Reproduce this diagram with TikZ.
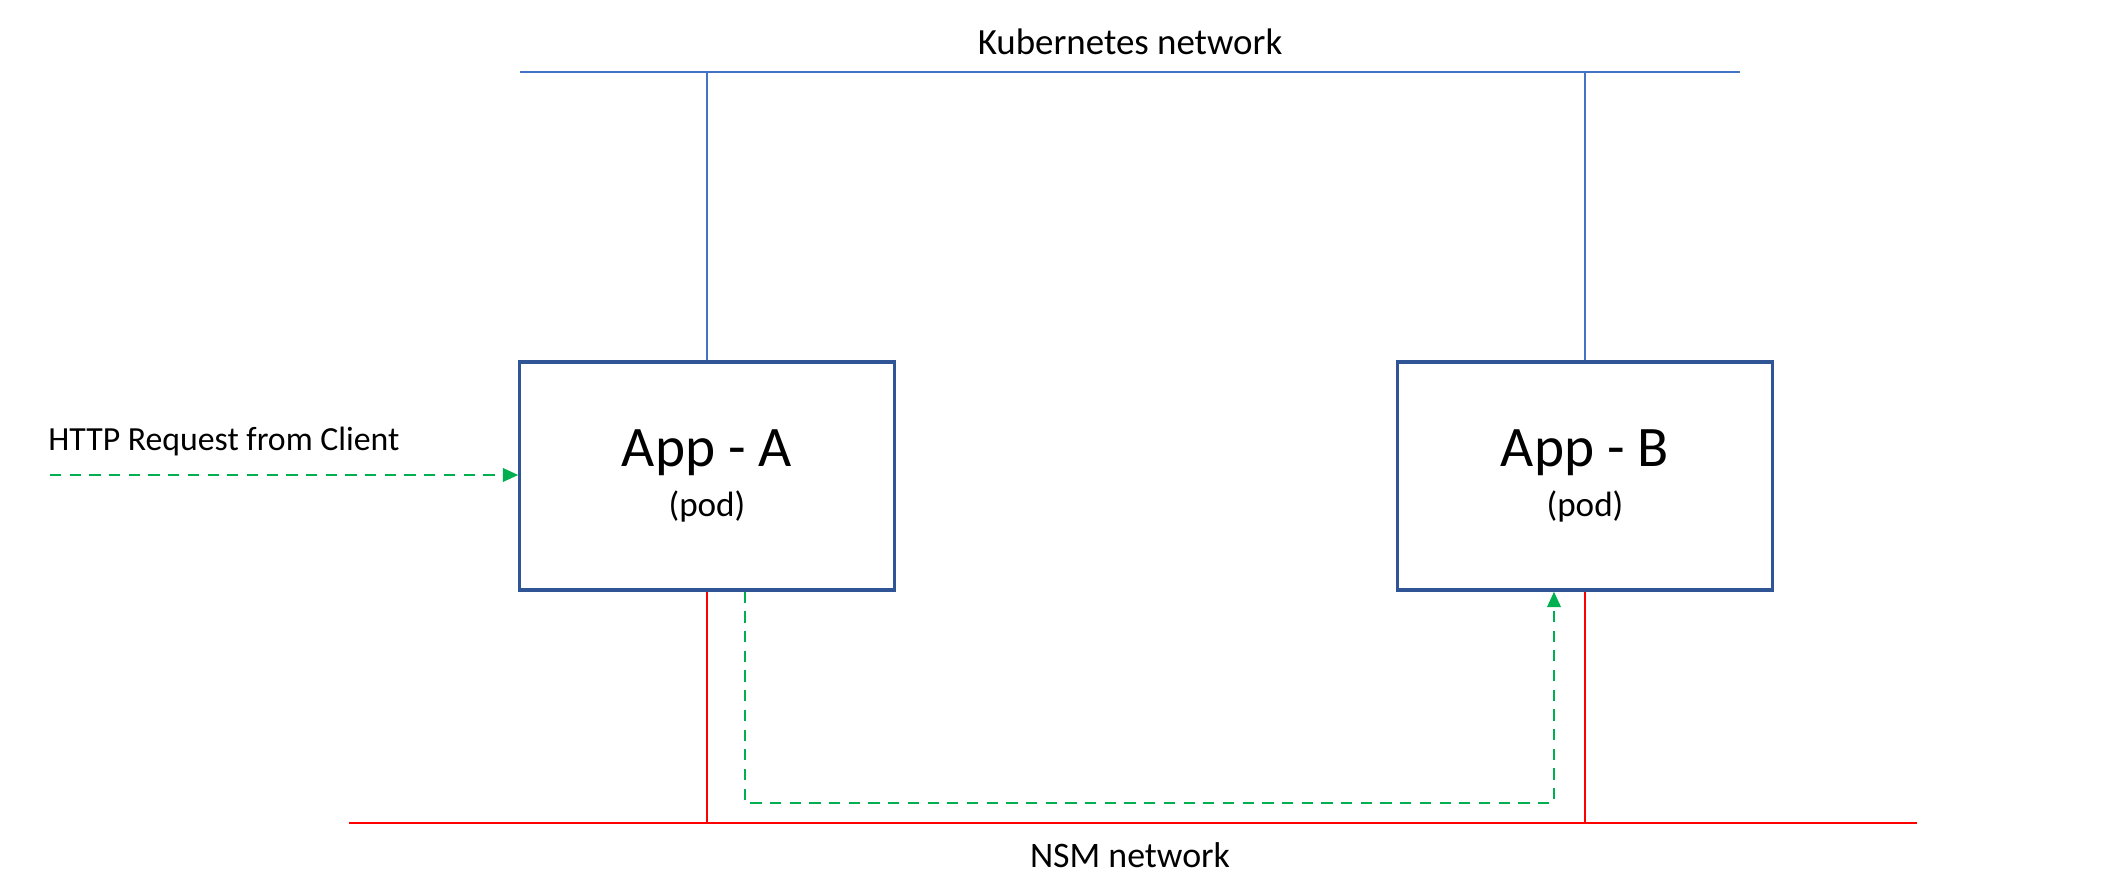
\documentclass[tikz,border=0pt]{standalone}
\usepackage{fontspec}
\setmainfont{Carlito}
\usepackage{xcolor}
\usetikzlibrary{calc}
\usetikzlibrary{arrows.meta}

\definecolor{boxblue}{HTML}{2F5597}
\definecolor{kubeblue}{HTML}{4472C4}
\definecolor{nsmred}{HTML}{FF0000}
\definecolor{flowgreen}{HTML}{00B050}

\begin{document}
\begin{tikzpicture}[
  x=0.01cm, y=-0.01cm, % one unit is one pixel of the reference
  >={Triangle[length=4.4pt,width=3.8pt]}, % style of the arrow tips
  pod node/.style={rectangle,draw=boxblue,line width=0.9pt,minimum width=3.74cm,minimum height=2.28cm,align=center,font=\fontsize{16.3}{17}\selectfont}, % style of the app boxes
  kube line/.style={draw=kubeblue,line width=0.5pt}, % kubernetes network
  nsm line/.style={draw=nsmred,line width=0.5pt}, % NSM network
  flow line/.style={->,draw=flowgreen,line width=0.75pt,dash pattern=on 3.2pt off 2.4pt}, % dashed traffic path
  net label/.style={font=\fontsize{10.5}{12}\selectfont}
  ]

  \useasboundingbox (0,0) rectangle (2102,894);

  \node[pod node] (appA) at (707,476) {App - A\\[-3pt]{\fontsize{10}{12}\selectfont (pod)}};
  \node[pod node] (appB) at (1585,476) {App - B\\[-3pt]{\fontsize{10}{12}\selectfont (pod)}};

  % networks
  \coordinate (kubeL) at (520,72);
  \coordinate (kubeR) at (1740,72);
  \coordinate (nsmL) at (349,823);
  \coordinate (nsmR) at (1917,823);
  \node[net label] (kubeLabel) at (1130,42) {Kubernetes network};
  \node[net label,font=\fontsize{10.2}{12}\selectfont] (nsmLabel) at (1130,855) {NSM network};

  \path[kube line] (kubeL) -- (kubeR);
  \path[kube line] (appA.north) -- (appA.north |- kubeL);
  \path[kube line] (appB.north) -- (appB.north |- kubeR);

  \path[nsm line] (nsmL) -- (nsmR);
  \path[nsm line] (appA.south) -- (appA.south |- nsmL);
  \path[nsm line] (appB.south) -- (appB.south |- nsmR);

  % request path
  \coordinate (client) at (50,475);
  \node[net label,anchor=west,font=\fontsize{9.6}{12}\selectfont] (httpLabel) at (36,442) {HTTP Request from Client};
  \draw[flow line] (client) -- (client -| appA.west);

  \coordinate (outA) at ($(appA.south)+(38,0)$);
  \coordinate (inB) at ($(appB.south)+(-31,0)$);
  \coordinate (low) at (0,803);
  \draw[flow line] (outA) -- (outA |- low) -- (inB |- low) -- (inB);
\end{tikzpicture}
\end{document}
